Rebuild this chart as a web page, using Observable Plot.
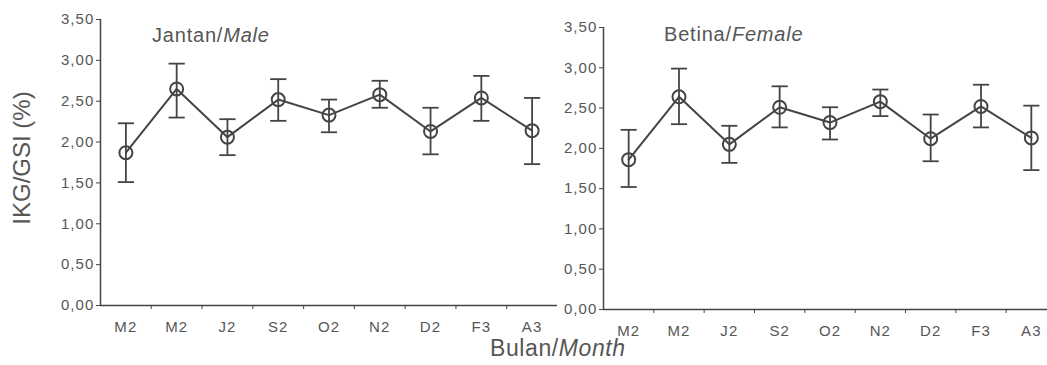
<!DOCTYPE html>
<html>
<head>
<meta charset="utf-8">
<script src="https://cdn.jsdelivr.net/npm/d3@7"></script>
<script src="https://cdn.jsdelivr.net/npm/@observablehq/plot@0.6"></script>
<style>
  html, body { margin: 0; padding: 0; background: #fff; overflow: hidden; }
  #wrap { position: relative; width: 1047px; height: 365px; overflow: hidden;
          font-family: "Liberation Sans", Arial, sans-serif; color: #565656; }
  #wrap svg { max-width: none; }
  .panel { position: absolute; top: 0; height: 365px; }
  .lbl { position: absolute; white-space: nowrap; line-height: 1; }
</style>
</head>
<body>
<div id="wrap">
  <div class="panel" id="left" style="left:0;width:560px"></div>
  <div class="panel" id="right" style="left:540px;width:520px"></div>
  <div class="lbl" style="left:152px;top:25px;font-size:20px;letter-spacing:0.8px">Jantan/<i>Male</i></div>
  <div class="lbl" style="left:664px;top:24px;font-size:20px;letter-spacing:0.8px">Betina/<i>Female</i></div>
  <div class="lbl" style="left:490px;top:339px;font-size:23px;line-height:0.8;letter-spacing:0.6px">Bulan/<i>Month</i></div>
  <div class="lbl" style="left:22px;top:158px;font-size:24px;transform:translate(-50%,-50%) rotate(-90deg)">IKG/GSI (%)</div>
</div>
<script>
// ---- data ----
const months = ["M2", "M2", "J2", "S2", "O2", "N2", "D2", "F3", "A3"];

const maleMean  = [1.87, 2.65, 2.06, 2.52, 2.33, 2.58, 2.13, 2.54, 2.14];
const maleUpper = [2.23, 2.96, 2.28, 2.77, 2.52, 2.75, 2.42, 2.81, 2.54];
const maleLower = [1.51, 2.30, 1.84, 2.26, 2.12, 2.42, 1.85, 2.26, 1.73];

const femaleMean  = [1.86, 2.64, 2.05, 2.51, 2.32, 2.58, 2.12, 2.52, 2.13];
const femaleUpper = [2.23, 2.99, 2.28, 2.77, 2.51, 2.73, 2.42, 2.79, 2.53];
const femaleLower = [1.52, 2.30, 1.82, 2.26, 2.11, 2.40, 1.84, 2.26, 1.73];

const yTicks = [0, 0.5, 1, 1.5, 2, 2.5, 3, 3.5];

// ---- drawing ----
const ink = "#444";
const idx = months.map((_, k) => k + 1);
const boundaries = idx.slice(1).map(i => i - 0.5);
const fmt = d => d.toFixed(2).replace(".", ",");

function panel(mean, upper, lower, opts) {
  const data = months.map((m, k) => ({ i: k + 1, label: m, m: mean[k], hi: upper[k], lo: lower[k] }));
  const capHalf = 0.16;
  return Plot.plot({
    width: opts.width,
    height: 365,
    marginLeft: opts.marginLeft,
    marginRight: opts.marginRight,
    marginTop: opts.marginTop,
    marginBottom: opts.marginBottom,
    x: { domain: [0.5, 9.5], axis: null, label: null },
    y: { domain: [0, 3.5], axis: null, label: null },
    style: { fontFamily: "'Liberation Sans', Arial, sans-serif", fontSize: "15px", color: "#565656", background: "transparent", letterSpacing: "1.1px" },
    marks: [
      Plot.ruleY([0], { stroke: ink, strokeWidth: 1.5 }),
      Plot.ruleX([0.5], { stroke: ink, strokeWidth: 1.5 }),
      Plot.axisY({ ticks: yTicks, tickFormat: fmt, tickSize: 4, tickPadding: 2, stroke: ink, label: null }),
      Plot.axisX({ ticks: boundaries, tickFormat: () => "", tickSize: 4, stroke: ink, label: null }),
      Plot.axisX({ ticks: idx, tickFormat: i => months[i - 1], tickSize: 0, tickPadding: 16, label: null }),
      Plot.ruleX(data, { x: "i", y1: "lo", y2: "hi", stroke: ink, strokeWidth: 1.8 }),
      Plot.link(data, { x1: d => d.i - capHalf, x2: d => d.i + capHalf, y1: "hi", y2: "hi", stroke: ink, strokeWidth: 1.8 }),
      Plot.link(data, { x1: d => d.i - capHalf, x2: d => d.i + capHalf, y1: "lo", y2: "lo", stroke: ink, strokeWidth: 1.8 }),
      Plot.line(data, { x: "i", y: "m", stroke: ink, strokeWidth: 2 }),
      Plot.dot(data, { x: "i", y: "m", r: 6.5, stroke: ink, strokeWidth: 2, fill: "none" })
    ]
  });
}

document.getElementById("left").append(
  panel(maleMean, maleUpper, maleLower, { width: 560, marginLeft: 100, marginRight: 3, marginTop: 19, marginBottom: 60 })
);
document.getElementById("right").append(
  panel(femaleMean, femaleUpper, femaleLower, { width: 520, marginLeft: 63, marginRight: 4, marginTop: 27, marginBottom: 56 })
);
</script>
</body>
</html>
